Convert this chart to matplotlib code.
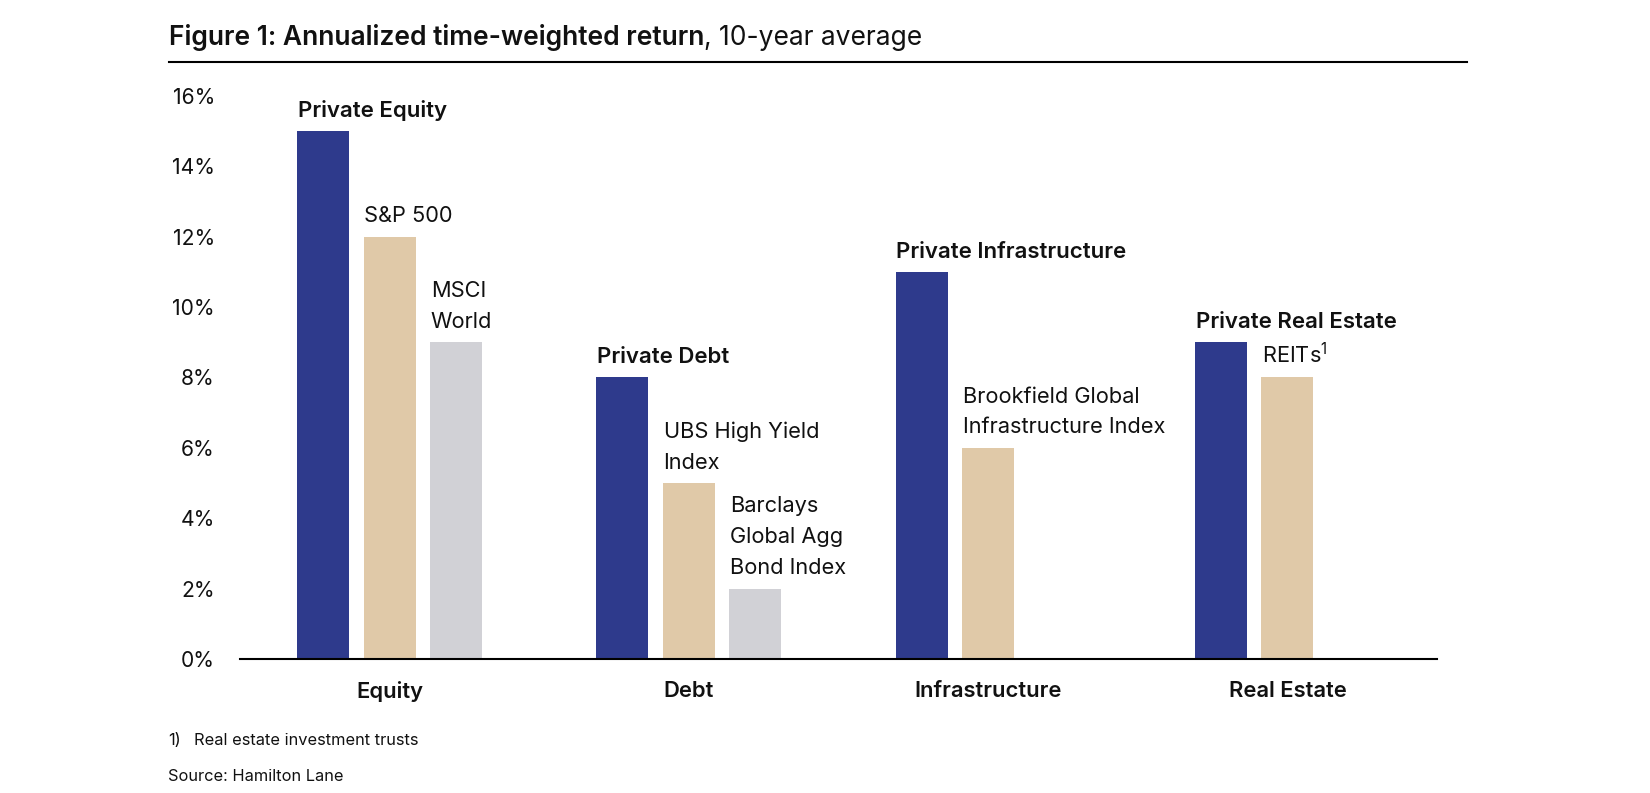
import matplotlib
matplotlib.use('Agg')
import matplotlib.pyplot as plt
import numpy as np

plt.rcParams['font.family'] = ['Inter', 'DejaVu Sans']
plt.rcParams['mathtext.fontset'] = 'custom'
plt.rcParams['mathtext.rm'] = 'Inter'

# data
categories = ['Equity', 'Debt', 'Infrastructure', 'Real Estate']
private_names = ['Private Equity', 'Private Debt', 'Private Infrastructure', 'Private Real Estate']
private_vals = [15, 8, 11, 9]
public_names = ['S&P 500', 'UBS High Yield\nIndex', 'Brookfield Global\nInfrastructure Index', r'REITs$^{\mathrm{1}}$']
public_vals = [12, 5, 6, 8]
global_names = ['MSCI\nWorld', 'Barclays\nGlobal Agg\nBond Index']
global_vals = [9, 2]
yticks = [0, 2, 4, 6, 8, 10, 12, 14, 16]

navy = '#2e3a8c'
tan = '#e0c9a8'
grey = '#d1d1d6'

fig = plt.figure(figsize=(16.5, 7.93), dpi=100)
ax = fig.add_axes([0.14545, 0.16898, 0.72546, 0.70996])

step = 0.222
width = 0.174
x = np.arange(len(categories))

series = [
    (private_vals, private_names, navy, 'semibold', 16.0),
    (public_vals, public_names, tan, 'normal', 15.7),
    (global_vals, global_names, grey, 'normal', 15.7),
]

for k, (vals, names, col, wt, fs) in enumerate(series):
    xs = x[:len(vals)] + (k - 1) * step
    ax.bar(xs, vals, width=width, color=col, align='center', zorder=2)
    for xi, v, name in zip(xs, vals, names):
        ax.annotate(name, (xi - width / 2, v), xytext=(0.5, 7.5), textcoords='offset points',
                    ha='left', va='bottom', fontsize=fs, fontweight=wt, color='#111111',
                    linespacing=1.68, annotation_clip=False)

ax.set_xlim(-0.5, 3.5)
ax.set_ylim(0, 16)
ax.set_yticks(yticks)
ax.set_yticklabels([f'{t}%' for t in yticks], fontsize=15.2, color='#111111')
ax.set_xticks(x)
ax.set_xticklabels(categories, fontsize=15.8, fontweight='semibold', color='#111111')
ax.tick_params(axis='y', length=0, pad=18)
ax.tick_params(axis='x', length=0, pad=16)

for s in ['top', 'right', 'left']:
    ax.spines[s].set_visible(False)
ax.spines['bottom'].set_linewidth(1.5)
ax.spines['bottom'].set_color('black')
ax.spines['bottom'].set_zorder(3)

# title in two weights
t1 = fig.text(0.1025, 0.9433, 'Figure 1: Annualized time-weighted return', fontsize=19,
              fontweight='semibold', color='#111111', va='baseline')
ax.annotate(', 10-year average', xy=(1, 0), xycoords=t1, fontsize=19, color='#111111',
            va='bottom', ha='left', annotation_clip=False)
fig.add_artist(plt.Line2D([0.1025, 0.889], [0.9218, 0.9218], color='black', linewidth=1.5))

fig.text(0.1018, 0.0605, '1)', fontsize=11.8, color='#111111', va='baseline')
fig.text(0.1176, 0.0605, 'Real estate investment trusts', fontsize=11.8, color='#111111', va='baseline')
fig.text(0.1018, 0.0151, 'Source: Hamilton Lane', fontsize=11.8, color='#111111', va='baseline')

fig.savefig('out.png', dpi=100, facecolor='white')
